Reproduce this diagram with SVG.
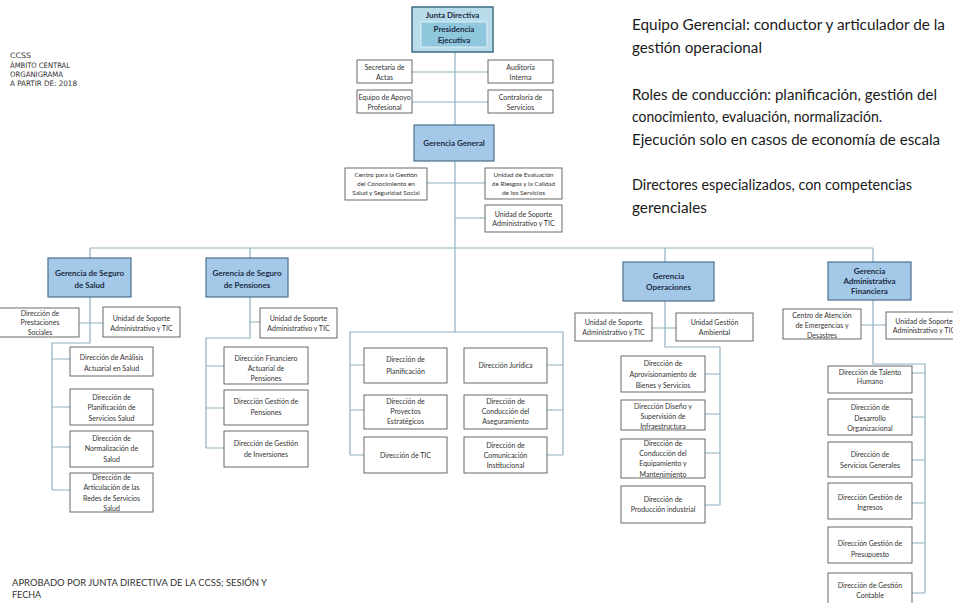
<svg xmlns="http://www.w3.org/2000/svg" width="953" height="603" viewBox="0 0 953 603">
<style>
.box{fill:#fff;stroke:#5a5a5a;stroke-width:0.9}
.ger{fill:#a3c8e8;stroke:#4d6f8a;stroke-width:1.2}
.t{font-family:Lato,"Liberation Sans",sans-serif;font-size:7px;fill:#333;text-anchor:middle}
.s{font-size:6.4px}
.b{font-weight:bold;font-size:8px;fill:#1c2c44}
.c{stroke:#8fb0c2;stroke-width:1.2;fill:none}
.side{font-family:Lato,"Liberation Sans",sans-serif;font-size:15.5px;fill:#1a1a1a}
.tl{font-family:"Liberation Sans Narrow","DejaVu Sans Condensed",sans-serif;font-size:7.5px;fill:#333}
.bl{font-family:Lato,"Liberation Sans",sans-serif;font-size:9px;fill:#333}
</style>
<rect width="953" height="603" fill="#fff"/>
<g id="connectors">
<path class="c" d="M455 52V332M412 72H488M412 102H488M427 183H485M455 218H485"/>
<path class="c" d="M90 248H873M90 248V258M250 248V258M665 248V262M873 248V262"/>
<path class="c" d="M90 297V343H52V490M79 323H103M52 359H70M52 407H70M52 447H70M52 490H70"/>
<path class="c" d="M250 297V338H206V448M250 322H260M206 366H224M206 408H224M206 448H224"/>
<path class="c" d="M350 455V332H563V455M350 365H364M350 410H364M350 455H364M547 365H563M547 410H563M547 455H563"/>
<path class="c" d="M665 301V347H720V505M652 328H676M705 374H720M705 414H720M705 453H720M705 505H720"/>
<path class="c" d="M873 300V364H925V593M861 325H886M912 373H925M912 417H925M912 460H925M912 503H925M912 543H925M912 593H925"/>
</g>
<g id="junta">
<rect x="412" y="7" width="81" height="45" fill="#b9dcea" stroke="#3d6e85" stroke-width="1.5"/>
<text class="t b" x="452.5" y="18">Junta Directiva</text>
</g>
<g id="presidencia">
<rect x="421" y="22" width="66" height="25" fill="#8fc7dc" stroke="#d8eef5" stroke-width="1"/>
<text class="t b" x="454" y="32"><tspan x="454">Presidencia</tspan><tspan x="454" y="43">Ejecutiva</tspan></text>
</g>
<g id="secretaria"><rect class="box" x="357" y="60" width="55" height="23"/><text class="t" x="384.5" y="69.5">Secretaría de<tspan x="384.5" y="79.5">Actas</tspan></text></g>
<g id="auditoria"><rect class="box" x="488" y="60" width="65" height="23"/><text class="t" x="520.5" y="69.5">Auditoría<tspan x="520.5" y="79.5">Interna</tspan></text></g>
<g id="equipo"><rect class="box" x="357" y="90" width="55" height="23"/><text class="t" x="384.5" y="99.5">Equipo de Apoyo<tspan x="384.5" y="109.5">Profesional</tspan></text></g>
<g id="contraloria"><rect class="box" x="488" y="90" width="65" height="23"/><text class="t" x="520.5" y="99.5">Contraloría de<tspan x="520.5" y="109.5">Servicios</tspan></text></g>
<g id="gerencia-general"><rect class="ger" x="414" y="125" width="80" height="36"/><text class="t b" x="454" y="146">Gerencia General</text></g>
<g id="centro-conocimiento"><rect class="box" x="345" y="168" width="82" height="32"/><text class="t s" x="386" y="176.5">Centro para la  Gestión<tspan x="386" y="185.5">del Conocimiento en</tspan><tspan x="386" y="195">Salud y Seguridad Social</tspan></text></g>
<g id="unidad-evaluacion"><rect class="box" x="485" y="168" width="77" height="31"/><text class="t s" x="523.5" y="176.5">Unidad de Evaluación<tspan x="523.5" y="185.5">de Riesgos y la Calidad</tspan><tspan x="523.5" y="195">de los Servicios</tspan></text></g>
<g id="unidad-soporte-gg"><rect class="box" x="485" y="205" width="77" height="27"/><text class="t" x="523.5" y="216.5">Unidad de Soporte<tspan x="523.5" y="226">Administrativo y TIC</tspan></text></g>

<g id="gerencia-salud"><rect class="ger" x="48" y="258" width="83" height="39"/><text class="t b" x="89.5" y="276">Gerencia de Seguro<tspan x="89.5" y="288">de Salud</tspan></text></g>
<g id="prestaciones"><rect class="box" x="-1" y="308" width="80" height="29"/><text class="t" x="40" y="315.5">Dirección de<tspan x="40" y="325">Prestaciones</tspan><tspan x="40" y="334.5">Sociales</tspan></text></g>
<g id="soporte-salud"><rect class="box" x="103" y="307" width="77" height="30"/><text class="t" x="141.5" y="320.5">Unidad de Soporte<tspan x="141.5" y="330.5">Administrativo y TIC</tspan></text></g>
<g id="analisis-actuarial"><rect class="box" x="70" y="347" width="83" height="29"/><text class="t" x="111.5" y="359.5">Dirección de Análisis<tspan x="111.5" y="370.5">Actuarial en Salud</tspan></text></g>
<g id="planificacion-salud"><rect class="box" x="70" y="389" width="83" height="36"/><text class="t" x="111.5" y="399.5">Dirección de<tspan x="111.5" y="410">Planificación de</tspan><tspan x="111.5" y="420.5">Servicios Salud</tspan></text></g>
<g id="normalizacion-salud"><rect class="box" x="70" y="431" width="83" height="36"/><text class="t" x="111.5" y="440.5">Dirección de<tspan x="111.5" y="451">Normalización de</tspan><tspan x="111.5" y="461.5">Salud</tspan></text></g>
<g id="articulacion-redes"><rect class="box" x="70" y="473" width="83" height="39"/><text class="t" x="111.5" y="479.5">Dirección de<tspan x="111.5" y="490">Articulación de las</tspan><tspan x="111.5" y="500.5">Redes de Servicios</tspan><tspan x="111.5" y="511">Salud</tspan></text></g>

<g id="gerencia-pensiones"><rect class="ger" x="206" y="258" width="82" height="39"/><text class="t b" x="247" y="276">Gerencia de Seguro<tspan x="247" y="288">de  Pensiones</tspan></text></g>
<g id="soporte-pensiones"><rect class="box" x="260" y="308" width="77" height="30"/><text class="t" x="298.5" y="320.5">Unidad de Soporte<tspan x="298.5" y="330.5">Administrativo y TIC</tspan></text></g>
<g id="financiero-actuarial"><rect class="box" x="224" y="347" width="84" height="37"/><text class="t" x="266" y="360.5">Dirección Financiero<tspan x="266" y="370.5">Actuarial de</tspan><tspan x="266" y="380.5">Pensiones</tspan></text></g>
<g id="gestion-pensiones"><rect class="box" x="224" y="390" width="84" height="35"/><text class="t" x="266" y="403.5">Dirección Gestión de<tspan x="266" y="415">Pensiones</tspan></text></g>
<g id="gestion-inversiones"><rect class="box" x="224" y="431" width="84" height="36"/><text class="t" x="266" y="445.5">Dirección de Gestión<tspan x="266" y="456.5">de Inversiones</tspan></text></g>

<g id="planificacion"><rect class="box" x="364" y="348" width="83" height="35"/><text class="t" x="405.5" y="361.5">Dirección de<tspan x="405.5" y="373.5">Planificación</tspan></text></g>
<g id="proyectos"><rect class="box" x="364" y="395" width="83" height="34"/><text class="t" x="405.5" y="403.5">Dirección de<tspan x="405.5" y="413.5">Proyectos</tspan><tspan x="405.5" y="423.5">Estratégicos</tspan></text></g>
<g id="tic"><rect class="box" x="364" y="437" width="83" height="36"/><text class="t" x="405.5" y="457.5">Dirección de TIC</text></g>
<g id="juridica"><rect class="box" x="464" y="348" width="83" height="35"/><text class="t" x="505.5" y="367.5">Dirección Jurídica</text></g>
<g id="conduccion-aseguramiento"><rect class="box" x="464" y="395" width="83" height="34"/><text class="t" x="505.5" y="403.5">Dirección de<tspan x="505.5" y="413.5">Conducción del</tspan><tspan x="505.5" y="423.5">Aseguramiento</tspan></text></g>
<g id="comunicacion"><rect class="box" x="464" y="437" width="83" height="36"/><text class="t" x="505.5" y="447.5">Dirección de<tspan x="505.5" y="457.5">Comunicación</tspan><tspan x="505.5" y="468">Institucional</tspan></text></g>

<g id="gerencia-operaciones"><rect class="ger" x="623" y="262" width="91" height="39"/><text class="t b" x="668.5" y="279">Gerencia<tspan x="668.5" y="290">Operaciones</tspan></text></g>
<g id="soporte-operaciones"><rect class="box" x="575" y="313" width="77" height="28"/><text class="t" x="613.5" y="324.5">Unidad de Soporte<tspan x="613.5" y="334.5">Administrativo y TIC</tspan></text></g>
<g id="gestion-ambiental"><rect class="box" x="676" y="313" width="77" height="28"/><text class="t" x="714.5" y="324.5">Unidad Gestión<tspan x="714.5" y="334.5">Ambiental</tspan></text></g>
<g id="aprovisionamiento"><rect class="box" x="621" y="356" width="84" height="36"/><text class="t" x="663" y="365.5">Dirección de<tspan x="663" y="376.5">Aprovisionamiento de</tspan><tspan x="663" y="387.5">Bienes y Servicios</tspan></text></g>
<g id="diseno"><rect class="box" x="621" y="400" width="84" height="30"/><text class="t" x="663" y="408.5">Dirección Diseño y<tspan x="663" y="418.5">Supervisión de</tspan><tspan x="663" y="428.5">Infraestructura</tspan></text></g>
<g id="equipamiento"><rect class="box" x="621" y="439" width="84" height="39"/><text class="t" x="663" y="445.5">Dirección de<tspan x="663" y="455.5">Conducción del</tspan><tspan x="663" y="466">Equipamiento y</tspan><tspan x="663" y="476.5">Mantenimiento</tspan></text></g>
<g id="produccion"><rect class="box" x="621" y="486" width="84" height="37"/><text class="t" x="663" y="501.5">Dirección de<tspan x="663" y="511.5">Producción industrial</tspan></text></g>

<g id="gerencia-financiera"><rect class="ger" x="828" y="262" width="83" height="38"/><text class="t b" x="869.5" y="274">Gerencia<tspan x="869.5" y="284">Administrativa</tspan><tspan x="869.5" y="294">Financiera</tspan></text></g>
<g id="centro-emergencias"><rect class="box" x="783" y="309" width="78" height="30"/><text class="t" x="822" y="317.5">Centro de Atención<tspan x="822" y="327.5">de Emergencias y</tspan><tspan x="822" y="337.5">Desastres</tspan></text></g>
<g id="soporte-financiera"><rect class="box" x="886" y="312" width="76" height="27"/><text class="t" x="924" y="323.5">Unidad de Soporte<tspan x="924" y="332.5">Administrativo y TIC</tspan></text></g>
<g id="talento"><rect class="box" x="828" y="366" width="84" height="27"/><text class="t" x="870" y="374.5">Dirección de Talento<tspan x="870" y="383.5">Humano</tspan></text></g>
<g id="desarrollo"><rect class="box" x="828" y="399" width="84" height="36"/><text class="t" x="870" y="409.5">Dirección de<tspan x="870" y="420.5">Desarrollo</tspan><tspan x="870" y="430.5">Organizacional</tspan></text></g>
<g id="servicios-generales"><rect class="box" x="828" y="442" width="84" height="35"/><text class="t" x="870" y="456.5">Dirección  de<tspan x="870" y="467.5">Servicios  Generales</tspan></text></g>
<g id="ingresos"><rect class="box" x="828" y="483" width="84" height="36"/><text class="t" x="870" y="499.5">Dirección Gestión de<tspan x="870" y="509.5">Ingresos</tspan></text></g>
<g id="presupuesto"><rect class="box" x="828" y="527" width="84" height="36"/><text class="t" x="870" y="545.5">Dirección Gestión de<tspan x="870" y="556.5">Presupuesto</tspan></text></g>
<g id="contable"><rect class="box" x="828" y="573" width="84" height="36"/><text class="t" x="870" y="587.5">Dirección de Gestión<tspan x="870" y="597.5">Contable</tspan></text></g>

<g id="titulo">
<text class="tl" x="10" y="58" textLength="21" lengthAdjust="spacingAndGlyphs">CCSS</text>
<text class="tl" x="10" y="67.5" textLength="60" lengthAdjust="spacingAndGlyphs">ÁMBITO CENTRAL</text>
<text class="tl" x="10" y="77" textLength="53" lengthAdjust="spacingAndGlyphs">ORGANIGRAMA</text>
<text class="tl" x="10" y="86" textLength="67" lengthAdjust="spacingAndGlyphs">A PARTIR DE: 2018</text>
</g>
<g id="notas">
<text class="side" x="632" y="30" textLength="313" lengthAdjust="spacingAndGlyphs">Equipo Gerencial: conductor y articulador de la</text>
<text class="side" x="632" y="53" textLength="130" lengthAdjust="spacingAndGlyphs">gestión operacional</text>
<text class="side" x="632" y="100" textLength="305" lengthAdjust="spacingAndGlyphs">Roles de conducción: planificación, gestión del</text>
<text class="side" x="632" y="122" textLength="250" lengthAdjust="spacingAndGlyphs">conocimiento, evaluación, normalización.</text>
<text class="side" x="632" y="145" textLength="308" lengthAdjust="spacingAndGlyphs">Ejecución solo en casos de economía de escala</text>
<text class="side" x="632" y="190" textLength="280" lengthAdjust="spacingAndGlyphs">Directores especializados, con competencias</text>
<text class="side" x="632" y="213" textLength="75" lengthAdjust="spacingAndGlyphs">gerenciales</text>
</g>
<g id="aprobado">
<text class="bl" x="12" y="586" textLength="255" lengthAdjust="spacingAndGlyphs">APROBADO POR JUNTA DIRECTIVA DE LA CCSS; SESIÓN Y</text>
<text class="bl" x="12" y="598">FECHA</text>
</g>
</svg>
